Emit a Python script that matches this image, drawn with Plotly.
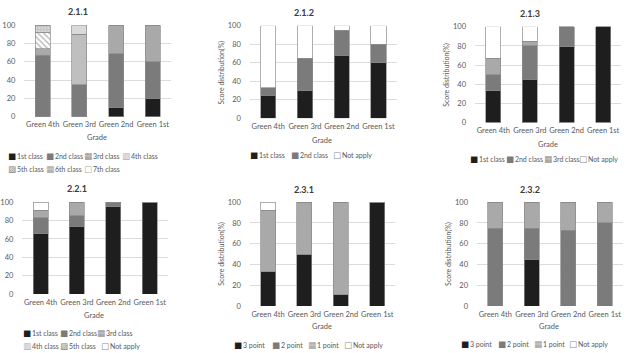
import plotly.graph_objects as go

W, H = 627, 353

grades = ["Green 4th", "Green 3rd", "Green 2nd", "Green 1st"]

# ---- 2.1.1 ----
p211_labels = ["1st class", "2nd class", "3rd class", "4th class", "5th class", "6th class", "7th class"]
p211_1st = [0, 0, 10, 20]
p211_2nd = [67, 35, 59, 40]
p211_3rd = [7, 0, 31, 40]
p211_4th = [0, 55, 0, 0]
p211_5th = [18, 0, 0, 0]
p211_6th = [8, 0, 0, 0]
p211_7th = [0, 10, 0, 0]

# ---- 2.1.2 ----
p212_labels = ["1st class", "2nd class", "Not apply"]
p212_1st = [25, 30, 68, 60]
p212_2nd = [8, 35, 27, 20]
p212_na = [67, 35, 5, 20]

# ---- 2.1.3 ----
p213_labels = ["1st class", "2nd class", "3rd class", "Not apply"]
p213_1st = [33, 45, 79, 100]
p213_2nd = [17, 35, 21, 0]
p213_3rd = [17, 5, 0, 0]
p213_na = [33, 15, 0, 0]

# ---- 2.2.1 ----
p221_labels = ["1st class", "2nd class", "3rd class", "4th class", "5th class", "Not apply"]
p221_1st = [66, 74, 95, 100]
p221_2nd = [17, 11, 5, 0]
p221_3rd = [8, 15, 0, 0]
p221_4th = [0, 0, 0, 0]
p221_5th = [0, 0, 0, 0]
p221_na = [9, 0, 0, 0]

# ---- 2.3.1 ----
p231_labels = ["3 point", "2 point", "1 point", "Not apply"]
p231_3pt = [33, 50, 11, 100]
p231_2pt = [0, 0, 0, 0]
p231_1pt = [59, 50, 89, 0]
p231_na = [8, 0, 0, 0]

# ---- 2.3.2 ----
p232_labels = ["3 point", "2 point", "1 point", "Not apply"]
p232_3pt = [0, 45, 0, 0]
p232_2pt = [75, 30, 73, 80]
p232_1pt = [25, 25, 27, 20]
p232_na = [0, 0, 0, 0]

titles = ["2.1.1", "2.1.2", "2.1.3", "2.2.1", "2.3.1", "2.3.2"]

# ---------------- styles ----------------
C1, C2, C3, C4, C7 = "#1e1e1e", "#7b7b7b", "#a9a9a9", "#bfbfbf", "#dadada"
WHITE = "#ffffff"
TXT = "#595959"
FONT = "Lato, Liberation Sans, sans-serif"

styles = {
    "1st class": dict(color=C1), "2nd class": dict(color=C2), "3rd class": dict(color=C3),
    "4th class": dict(color=C4),
    "5th class": dict(color=WHITE, pattern=dict(shape="\\", fgcolor="#6f6f6f", bgcolor=WHITE, size=4, solidity=0.35)),
    "6th class": dict(color="#cfcfcf", pattern=dict(shape="+", fgcolor="#8a8a8a", bgcolor="#d8d8d8", size=3, solidity=0.3)),
    "7th class": dict(color=C7), "Not apply": dict(color=WHITE),
    "3 point": dict(color=C1), "2 point": dict(color=C2), "1 point": dict(color=C3),
}
glyphs = {
    "1st class": ("■", C1), "2nd class": ("■", C2), "3rd class": ("▦", "#8f8f8f"),
    "4th class": ("▥", "#a9a9a9"), "5th class": ("▨", "#7b7b7b"), "6th class": ("▦", "#a0a0a0"),
    "7th class": ("□", "#aaaaaa"), "Not apply": ("□", "#8a8a8a"),
    "3 point": ("■", C1), "2 point": ("■", C2), "1 point": ("▦", "#9a9a9a"),
}

panels = [
    (p211_labels, [p211_1st, p211_2nd, p211_3rd, p211_4th, p211_5th, p211_6th, p211_7th]),
    (p212_labels, [p212_1st, p212_2nd, p212_na]),
    (p213_labels, [p213_1st, p213_2nd, p213_3rd, p213_na]),
    (p221_labels, [p221_1st, p221_2nd, p221_3rd, p221_4th, p221_5th, p221_na]),
    (p231_labels, [p231_3pt, p231_2pt, p231_1pt, p231_na]),
    (p232_labels, [p232_3pt, p232_2pt, p232_1pt, p232_na]),
]

# pixel layout: (x0, x1, ytop, ybottom)
boxes = [
    (19.5, 167.5, 21.7, 115.7),
    (246.8, 395.0, 22.3, 117.3),
    (473.8, 621.4, 23.3, 121.7),
    (17.5, 164.2, 203.3, 297.7),
    (246.8, 393.6, 203.3, 310.0),
    (475.8, 623.0, 203.3, 310.0),
]
title_pos = [(74, 8), (301.7, 8.5), (529.7, 9.3), (72.7, 189), (301.7, 190), (529.7, 190)]
grade_pos = [(92.3, 137.3), (320, 140), (547.3, 144), (90, 319.7), (320, 331), (548.7, 331)]
ylab_pos = [None, (218, 70), (444.7, 72.5), None, (218.3, 256.7), (446.3, 256.7)]
legend_pos = [
    [(1, 156), (39, 156), (78, 156), (116, 156), (1, 169), (39, 169), (78, 169)],
    [(245, 155), (286.7, 155), (328.3, 155)],
    [(467, 159.3), (503, 159.3), (541, 159.3), (577, 159.3)],
    [(15.7, 337.7), (53.3, 337.7), (90.7, 337.7), (15.7, 350.7), (53.3, 350.7), (95, 350.7)],
    [(229.3, 350), (266.7, 350), (303.3, 350), (340, 350)],
    [(458, 349.3), (495.3, 349.3), (531.3, 349.3), (566.3, 349.3)],
]

fig = go.Figure()
annotations = []
layout_axes = {}

for i, (labels, series) in enumerate(panels):
    n = i + 1
    xa = "x" if n == 1 else f"x{n}"
    ya = "y" if n == 1 else f"y{n}"
    for lab, vals in zip(labels, series):
        st = styles[lab]
        marker = dict(color=st["color"], line=dict(color="#8c8c8c", width=0.7))
        if "pattern" in st:
            marker["pattern"] = st["pattern"]
        fig.add_trace(go.Bar(x=grades, y=vals, name=lab, marker=marker,
                             xaxis=xa, yaxis=ya, showlegend=False,
                             hovertemplate="%{x}: %{y}%<extra>" + lab + "</extra>"))
    x0, x1, yt, yb = boxes[i]
    layout_axes["xaxis" if n == 1 else f"xaxis{n}"] = dict(
        domain=[x0 / W, x1 / W], anchor=ya, type="category", range=[-0.5, 3.5],
        showgrid=False, showline=False, zeroline=False, ticks="", tickangle=0,
        tickfont=dict(size=7.5, color=TXT, family=FONT), ticklabelstandoff=2, fixedrange=True)
    layout_axes["yaxis" if n == 1 else f"yaxis{n}"] = dict(
        domain=[1 - yb / H, 1 - yt / H], anchor=xa, range=[0, 100], dtick=20,
        showgrid=True, gridcolor="#dcdcdc", gridwidth=0.8, showline=False, zeroline=False,
        ticks="", tickfont=dict(size=7.5, color=TXT, family=FONT), ticklabelstandoff=8, fixedrange=True)

    tx, ty = title_pos[i]
    annotations.append(dict(text="<b>" + titles[i] + "</b>", x=tx / W, y=1 - ty / H, xref="paper", yref="paper",
                            showarrow=False, xanchor="center", yanchor="middle",
                            font=dict(size=9, color="#3a3a3a", family=FONT)))
    gx, gy = grade_pos[i]
    annotations.append(dict(text="Grade", x=gx / W, y=1 - gy / H, xref="paper", yref="paper",
                            showarrow=False, xanchor="center", yanchor="middle",
                            font=dict(size=7.5, color=TXT, family=FONT)))
    if ylab_pos[i] is not None:
        lx, ly = ylab_pos[i]
        annotations.append(dict(text="Score distribution(%)", x=lx / W, y=1 - ly / H, xref="paper", yref="paper",
                                showarrow=False, textangle=-90, xanchor="center", yanchor="middle",
                                font=dict(size=7, color=TXT, family=FONT)))
    for lab, (lx, ly) in zip(labels, legend_pos[i]):
        g, gc = glyphs[lab]
        annotations.append(dict(
            text=f"<span style='color:{gc};font-family:DejaVu Sans;font-size:8.5px'>{g}</span>\u2009{lab}",
            x=lx / W, y=1 - ly / H, xref="paper", yref="paper", showarrow=False,
            xanchor="left", yanchor="middle", font=dict(size=7, color=TXT, family=FONT)))

fig.update_layout(
    width=W, height=H, margin=dict(l=0, r=0, t=0, b=0),
    paper_bgcolor="white", plot_bgcolor="white",
    barmode="stack", bargap=0.59, showlegend=False,
    annotations=annotations, **layout_axes)

fig.write_html("out.html")
